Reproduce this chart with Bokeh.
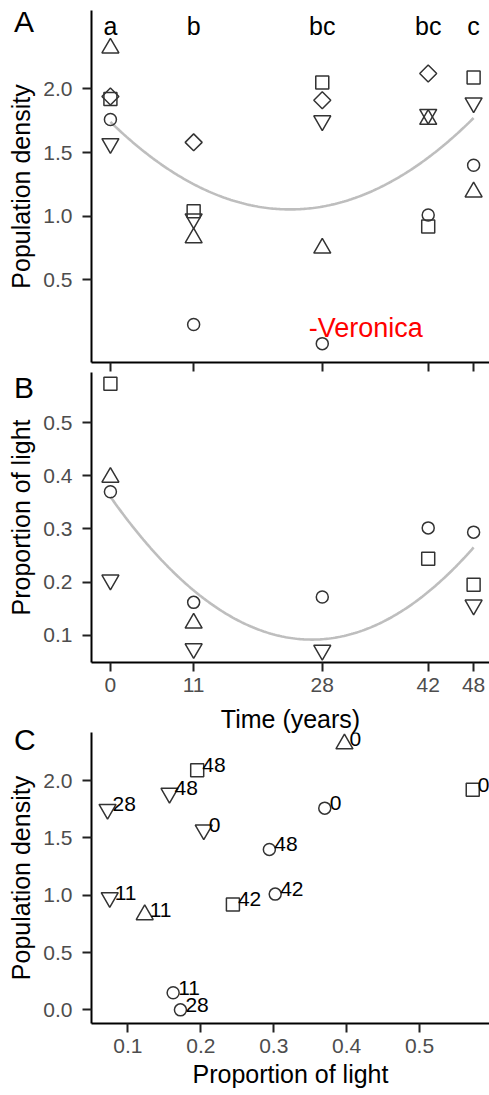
import numpy as np
from bokeh.plotting import figure
from bokeh.layouts import column
from bokeh.models import Range1d, FixedTicker, NumeralTickFormatter, Label, Div
from bokeh.embed import file_html
from bokeh.resources import INLINE
from bokeh.core.properties import value

FONT = "Liberation Sans"

# ---------------- data ----------------
times = [0, 11, 28, 42, 48]
group_letters = ["a", "b", "bc", "bc", "c"]

# Panel A - population density per site symbol (None = no value)
pop_circle = [1.76, 0.15, 0.00, 1.01, 1.40]
pop_square = [1.92, 1.04, 2.05, 0.92, 2.09]
pop_tri_up = [2.32, 0.83, 0.75, 1.76, 1.19]
pop_tri_down = [1.57, 0.98, 1.75, 1.80, 1.89]
pop_diamond = [1.94, 1.58, 1.91, 2.12, None]

# Panel B - proportion of light per site symbol (None = no value)
light_circle = [0.370, 0.162, 0.172, 0.302, 0.294]
light_square = [0.573, None, None, 0.244, 0.195]
light_tri_up = [0.397, 0.123, None, None, None]
light_tri_down = [0.204, 0.075, 0.072, None, 0.157]

yticks_A = [0.5, 1.0, 1.5, 2.0]
yticks_B = [0.1, 0.2, 0.3, 0.4, 0.5]
yticks_C = [0.0, 0.5, 1.0, 1.5, 2.0]
xticks_C = [0.1, 0.2, 0.3, 0.4, 0.5]

# ---------------- styles ----------------
MARK = {
    "circle": dict(marker="circle", size=12, angle=0.0),
    "square": dict(marker="square", size=13, angle=0.0),
    "tri_up": dict(marker="triangle", size=17, angle=0.0),
    "tri_down": dict(marker="inverted_triangle", size=17, angle=0.0),
    "diamond": dict(marker="square", size=12, angle=np.pi / 4),
}
POP = {"circle": pop_circle, "square": pop_square, "tri_up": pop_tri_up,
       "tri_down": pop_tri_down, "diamond": pop_diamond}
LIGHT = {"circle": light_circle, "square": light_square, "tri_up": light_tri_up,
         "tri_down": light_tri_down}
MCOL = "#333333"
FITCOL = "#BEBEBE"


def style(p):
    p.grid.visible = False
    p.outline_line_color = None
    p.background_fill_color = "white"
    p.border_fill_color = "white"
    for ax in (p.xaxis[0], p.yaxis[0]):
        ax.axis_line_color = "black"
        ax.axis_line_width = 2
        ax.major_tick_line_color = "#222222"
        ax.major_tick_line_width = 2
        ax.major_tick_in = 0
        ax.major_tick_out = 9
        ax.minor_tick_line_color = None
        ax.major_label_text_font = FONT
        ax.major_label_text_font_size = "21px"
        ax.major_label_text_color = "#4D4D4D"
        ax.axis_label_text_font = FONT
        ax.axis_label_text_font_size = "25px"
        ax.axis_label_text_font_style = "normal"
        ax.axis_label_text_color = "black"
    p.yaxis[0].major_label_standoff = 10
    p.yaxis[0].axis_label_standoff = 5
    p.xaxis[0].major_label_standoff = 6
    p.xaxis[0].axis_label_standoff = 4
    p.xaxis[0].major_label_text_line_height = 1.0
    p.xaxis[0].axis_label_text_line_height = 1.0


def draw_points(p, xs, ys, key):
    xx, yy = [], []
    for a, b in zip(xs, ys):
        if a is not None and b is not None:
            xx.append(a)
            yy.append(b)
    m = MARK[key]
    p.scatter(xx, yy, marker=m["marker"], size=m["size"], angle=m["angle"],
              fill_color=None, line_color=MCOL, line_width=1.5)


def fit_curve(p, series):
    tx, ty = [], []
    for ys in series:
        for t, v in zip(times, ys):
            if v is not None:
                tx.append(t)
                ty.append(v)
    coef = np.polyfit(tx, ty, 2)
    xs = np.linspace(min(times), max(times), 200)
    p.line(xs, np.polyval(coef, xs), line_color=FITCOL, line_width=2.6)


def panel_letter(txt, left, top):
    return Div(text=txt, styles={"position": "absolute", "left": f"{left}px", "top": f"{top}px",
                                 "font-family": FONT, "font-size": "30px",
                                 "line-height": "30px", "color": "black", "z-index": "5"})


W = 489

# ---------------- Panel A ----------------
pA = figure(width=W, height=372, output_backend="svg", toolbar_location=None,
            x_range=Range1d(-2.5, 50.1), y_range=Range1d(-0.148, 2.615),
            min_border_left=91, min_border_right=0, min_border_top=10, min_border_bottom=10)
style(pA)
pA.xaxis.ticker = FixedTicker(ticks=times)
pA.xaxis.major_label_text_font_size = "0px"
pA.xaxis.major_label_text_color = None
pA.xaxis.major_label_standoff = 0
pA.yaxis.ticker = FixedTicker(ticks=yticks_A)
pA.yaxis.formatter = NumeralTickFormatter(format="0.0")
pA.yaxis.axis_label = "Population density"
fit_curve(pA, list(POP.values()))
for k in ["circle", "square", "tri_up", "tri_down", "diamond"]:
    draw_points(pA, times, POP[k], k)
pA.text(x=times, y=[2.49] * len(times), text=group_letters, text_font=value(FONT),
        text_font_size="25px", text_align="center", text_baseline="middle",
        text_color="black")
pA.add_layout(Label(x=26.2, y=0.12, text="-Veronica", text_font=FONT,
                    text_font_size="27px", text_color="#FF0000",
                    text_align="left", text_baseline="middle"))

# ---------------- Panel B ----------------
pB = figure(width=W, height=330, output_backend="svg", toolbar_location=None,
            x_range=Range1d(-2.5, 50.1), y_range=Range1d(0.049, 0.594),
            min_border_left=91, min_border_right=0, min_border_top=0, min_border_bottom=40)
style(pB)
pB.xaxis.ticker = FixedTicker(ticks=times)
pB.yaxis.ticker = FixedTicker(ticks=yticks_B)
pB.yaxis.formatter = NumeralTickFormatter(format="0.0")
pB.yaxis.axis_label = "Proportion of light"
fit_curve(pB, list(LIGHT.values()))
for k in ["circle", "square", "tri_up", "tri_down"]:
    draw_points(pB, times, LIGHT[k], k)

# ---------------- Panel C ----------------
# (the x-axis title of panel B is carried as the title strip above panel C)
pC = figure(width=W, height=393, output_backend="svg", toolbar_location=None,
            x_range=Range1d(0.05, 0.596), y_range=Range1d(-0.119, 2.42),
            min_border_left=91, min_border_right=0, min_border_top=30, min_border_bottom=72)
style(pC)
pC.title.text = "Time (years)"
pC.title.align = "center"
pC.title.text_font = FONT
pC.title.text_font_size = "25px"
pC.title.text_font_style = "normal"
pC.title.text_color = "black"
pC.title.standoff = 0
pC.title.text_line_height = 1.0
pC.xaxis.ticker = FixedTicker(ticks=xticks_C)
pC.xaxis.formatter = NumeralTickFormatter(format="0.0")
pC.xaxis.axis_label = "Proportion of light"
pC.yaxis.ticker = FixedTicker(ticks=yticks_C)
pC.yaxis.formatter = NumeralTickFormatter(format="0.0")
pC.yaxis.axis_label = "Population density"
lx, ly, lt = [], [], []
for k in ["circle", "square", "tri_up", "tri_down"]:
    xs, ys, ts = [], [], []
    for t, lv, pv in zip(times, LIGHT[k], POP[k]):
        if lv is not None and pv is not None:
            xs.append(lv)
            ys.append(pv)
            ts.append(str(t))
    draw_points(pC, xs, ys, k)
    lx += xs
    ly += ys
    lt += ts
pC.text(x=lx, y=ly, text=lt, x_offset=5, y_offset=-5, text_font=value(FONT),
        text_font_size="21px", text_align="left", text_baseline="middle",
        text_color="black")

layout = column(pA, pB, pC,
                panel_letter("A", 9, 2), panel_letter("B", 9, 368), panel_letter("C", 9, 720))
open("out.html", "w").write(file_html(layout, INLINE))
